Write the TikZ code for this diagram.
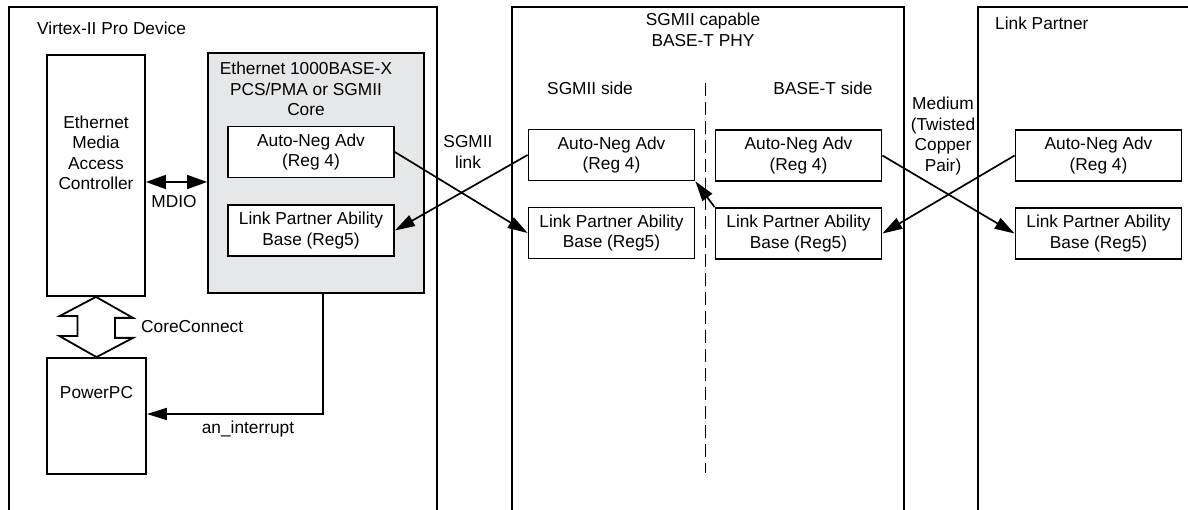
\documentclass[tikz,border=0pt]{standalone}
\usepackage{fontspec}
\setmainfont{Liberation Sans}
\usetikzlibrary{arrows.meta}

\definecolor{coregray}{RGB}{230,231,232}

\tikzset{
    frame/.style={draw, line width=1.8pt},
    reg/.style={draw, line width=1.8pt, fill=white, minimum width=166pt, minimum height=51pt, align=center, inner sep=0pt},
    lbl/.style={align=center, inner sep=0pt},
    link/.style={line width=1.7pt, -{Triangle[length=20pt,width=12pt]}},
}

\begin{document}
\begin{tikzpicture}[x=1pt, y=-1pt, font=\fontsize{17.3}{20.5}\selectfont]
\useasboundingbox (0,0) rectangle (1188,510);

% Virtex-II Pro device
\begin{scope}
    % Draw frame
    \draw[frame] (9,510) |- (437,7) -- (437,510);
    \node[lbl, anchor=west] (virtex) at (37,28) {Virtex-II Pro Device};

    % MAC and PowerPC
    \node[frame, minimum width=98pt, minimum height=241pt] (emac) at (96,175.5) {};
    \node[lbl] (emactxt) at (96,153) {Ethernet\\Media\\Access\\Controller};
    \node[frame, minimum width=99pt, minimum height=116pt] (ppc) at (96.5,416) {};
    \node[lbl] (ppctxt) at (96.5,393) {PowerPC};

    % Core with its registers
    \node[frame, fill=coregray, minimum width=216pt, minimum height=240pt] (core) at (316,173) {};
    \node[lbl] (coretxt) at (306,89) {Ethernet 1000BASE-X\\PCS/PMA or SGMII\\Core};
    \node[reg] (cAN) at (311,152) {Auto-Neg Adv\\(Reg 4)};
    \node[reg] (cLP) at (311,230.5) {Link Partner Ability\\Base (Reg5)};

    % MDIO
    \draw[line width=1.7pt, {Triangle[length=20pt,width=14pt]}-{Triangle[length=20pt,width=14pt]}] (emac.east |- 0,182) -- (core.west |- 0,182);
    \node[lbl] (mdio) at (174,202) {MDIO};

    % CoreConnect bus
    \draw[frame, line join=miter] (emac.south) -- ++(37,21) -- ++(-18,0) -- ++(0,20) -- ++(18,0) -- (ppc.north)
        -- ++(-37,-21) -- ++(18,0) -- ++(0,-20) -- ++(-18,0) -- cycle;
    \node[lbl, anchor=west] (cc) at (141,327) {CoreConnect};

    % Interrupt
    \draw[link] (core.south -| 323,0) |- (ppc.east |- 0,414);
    \node[lbl] (irq) at (248,429) {an\_interrupt};
\end{scope}

% SGMII link
\node[lbl] (sgmii) at (468,152) {SGMII\\link};

% BASE-T PHY
\begin{scope}
    \draw[frame] (512,510) |- (904,7) -- (904,510);
    \node[lbl] (phy) at (703,30) {SGMII capable\\BASE-T PHY};
    \node[lbl] (sside) at (590,88) {SGMII side};
    \node[lbl] (tside) at (823,88) {BASE-T side};
    \draw[line width=1pt, dash pattern=on 13pt off 6pt] (705,83) -- (705,473);

    \node[reg] (sAN) at (611.5,155) {Auto-Neg Adv\\(Reg 4)};
    \node[reg] (sLP) at (611.5,233) {Link Partner Ability\\Base (Reg5)};
    \node[reg] (tAN) at (798.5,155.5) {Auto-Neg Adv\\(Reg 4)};
    \node[reg] (tLP) at (798.5,233.5) {Link Partner Ability\\Base (Reg5)};
\end{scope}

% Medium
\node[lbl] (medium) at (943,136) {Medium\\(Twisted\\Copper\\Pair)};

% Link partner
\begin{scope}
    \draw[frame] (978,510) |- (1188,7);
    \node[lbl, anchor=west] (lp) at (995,23) {Link Partner};
    \node[reg] (pAN) at (1098.5,155.5) {Auto-Neg Adv\\(Reg 4)};
    \node[reg] (pLP) at (1098.5,233.5) {Link Partner Ability\\Base (Reg5)};
\end{scope}

% Exchange of abilities
\draw[link] (cAN.east) -- (sLP.west);
\draw[link] (sAN.west) -- (cLP.east);
\draw[link] (tLP.north west) -- (sAN.south east);
\draw[link] (tAN.east) -- (pLP.west);
\draw[link] (pAN.west) -- (tLP.east);
\end{tikzpicture}
\end{document}
